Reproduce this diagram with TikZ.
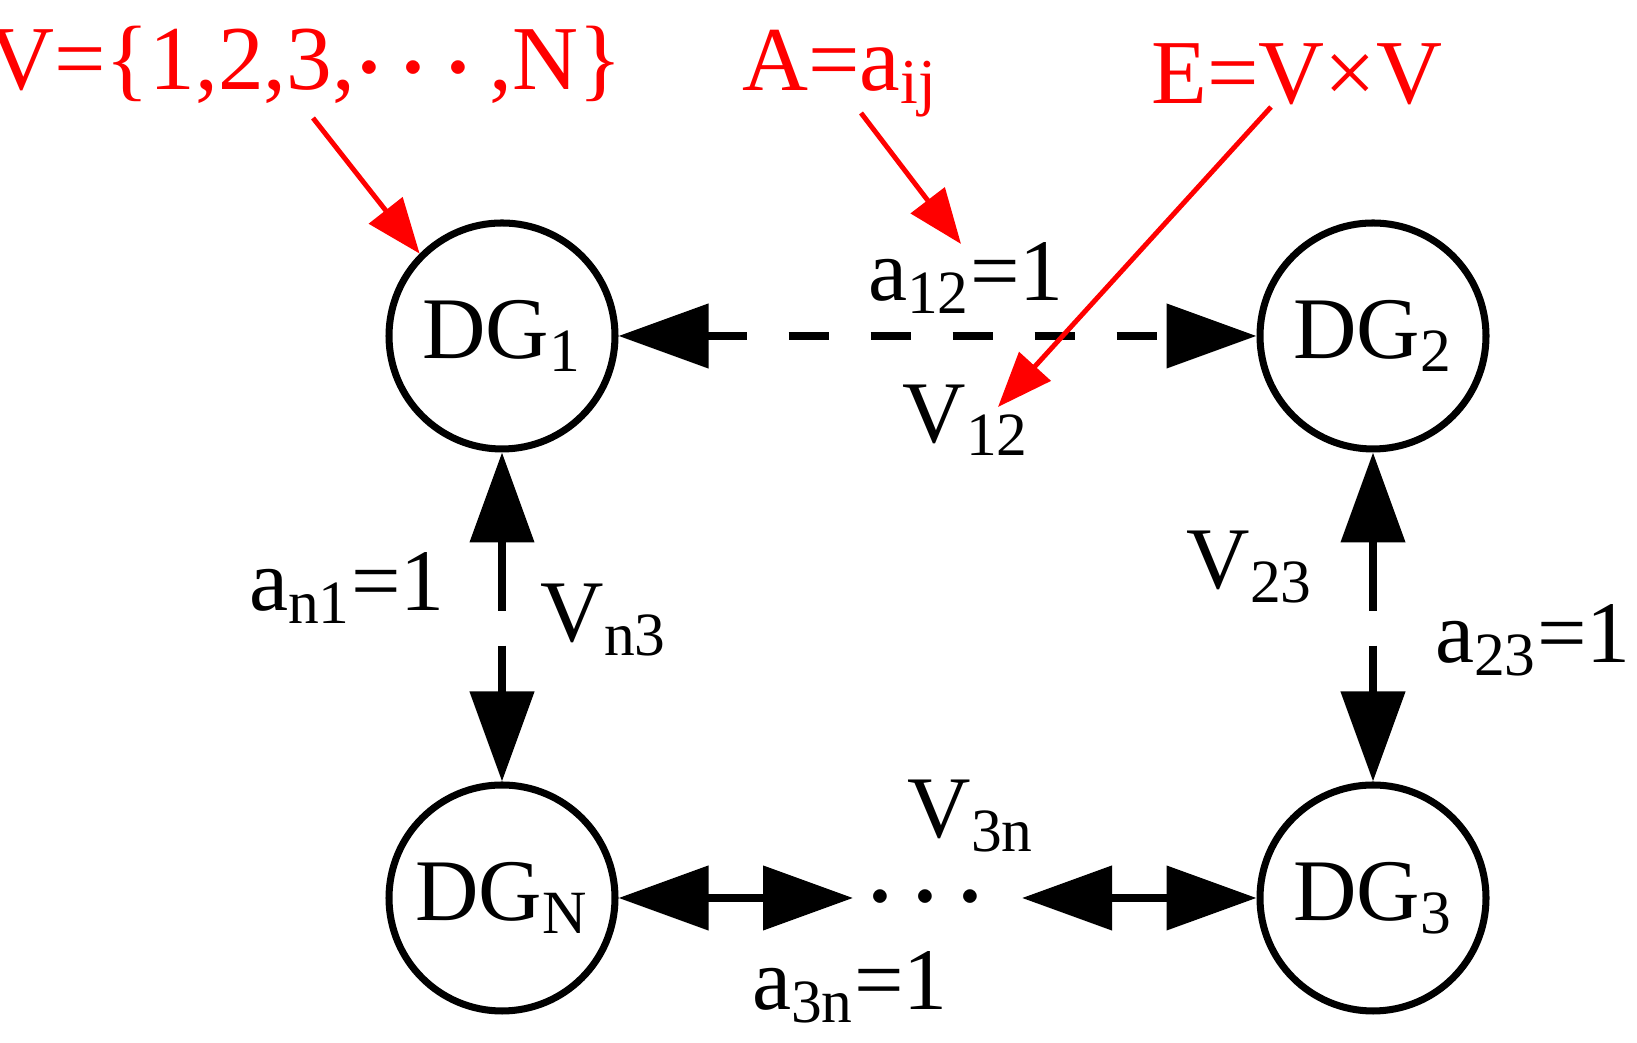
\documentclass[tikz,border=0pt]{standalone}
\usepackage{amsmath}
\usepackage{fontspec}
\setmainfont{Liberation Serif}
\usetikzlibrary{arrows.meta}

\begin{document}
\begin{tikzpicture}[
  dg/.style={circle, draw, line width=2pt, minimum size=2.26cm, inner sep=0pt, font=\fontsize{25}{25}\selectfont},
  lbl/.style={font=\fontsize{25}{25}\selectfont, inner sep=0pt},
  red lbl/.style={font=\fontsize{26}{26}\selectfont, text=red, inner sep=0pt},
  link/.style={line width=2.2pt, {Triangle[length=0.9cm,width=0.63cm]}-{Triangle[length=0.9cm,width=0.63cm]}},
  dlink/.style={link, dash pattern=on 0.4cm off 0.42cm},
  vlink/.style={link, dash pattern=on 0.7cm off 0.35cm},
  pointer/.style={draw=red, line width=1.4pt, -{Triangle[length=0.55cm,width=0.42cm]}}
]
\useasboundingbox (0,0) rectangle (16.37,10.43);

\node[dg] (DG1) at (5.02,7.07) {DG\textsubscript{1}};
\node[dg] (DG2) at (13.73,7.07) {DG\textsubscript{2}};
\node[dg] (DGN) at (5.02,1.45) {DG\textsubscript{N}};
\node[dg] (DG3) at (13.73,1.45) {DG\textsubscript{3}};
\node[lbl, font=\fontsize{36}{36}\selectfont] (dots) at (9.34,1.45) {$\boldsymbol{\cdots}$};
\coordinate (dL) at (8.53,1.45);
\coordinate (dR) at (10.22,1.45);

\draw[dlink] (DG1) -- (DG2);
\draw[vlink] (DG1) -- (DGN);
\draw[vlink] (DG2) -- (DG3);
\draw[link] (DGN) -- (dL);
\draw[link] (dR) -- (DG3);

\node[lbl] (a12) at (9.66,7.65) {a\textsubscript{12}=1};
\node[lbl] (V12) at (9.66,6.23) {V\textsubscript{12}};
\node[lbl] (an1) at (3.47,4.55) {a\textsubscript{n1}=1};
\node[lbl] (Vn3) at (6.04,4.23) {V\textsubscript{n3}};
\node[lbl] (V23) at (12.5,4.76) {V\textsubscript{23}};
\node[lbl] (a23) at (15.33,4.03) {a\textsubscript{23}=1};
\node[lbl] (V3n) at (9.71,2.27) {V\textsubscript{3n}};
\node[lbl] (a3n) at (8.50,0.56) {a\textsubscript{3n}=1};

% red annotations
\node[red lbl] (Vset) at (3.05,9.78) {V=\{1,2,3,$\boldsymbol{\cdots}$,N\}};
\node[red lbl] (Adef) at (8.40,9.69) {A=a\textsubscript{ij}};
\node[red lbl] (Edef) at (12.97,9.69) {E=V×V};
\coordinate (pV) at (3.13,9.25);
\coordinate (pA) at (8.61,9.30);
\coordinate (pE) at (12.71,9.36);
\coordinate (tA) at (9.61,7.99);
\coordinate (tE) at (9.98,6.36);
\draw[pointer] (pV) -- (DG1.north west);
\draw[pointer] (pA) -- (tA);
\draw[pointer] (pE) -- (tE);
\end{tikzpicture}
\end{document}
